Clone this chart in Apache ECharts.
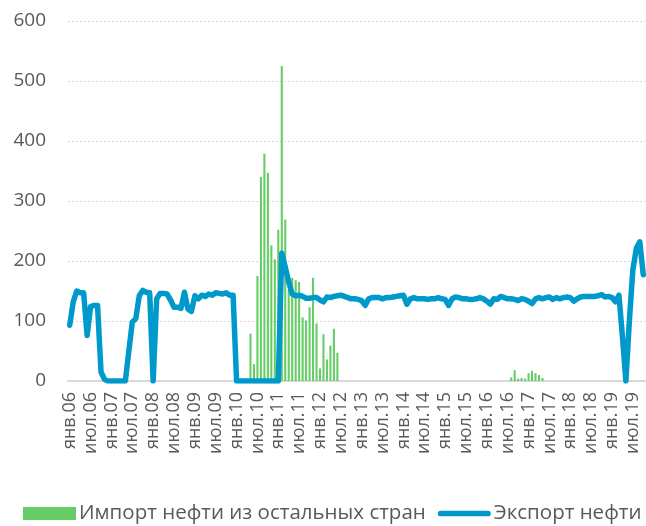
<!DOCTYPE html>
<html><head><meta charset="utf-8">
<script src="https://cdn.jsdelivr.net/npm/echarts@6/dist/echarts.min.js"></script>
<style>html,body{margin:0;padding:0;background:#fff}#c{width:646px;height:526px}</style>
</head><body><div id="c"></div>
<script>
// Month labels (Jan 2006 .. Oct 2019)
const monthNames = ['янв','фев','мар','апр','май','июн','июл','авг','сен','окт','ноя','дек'];
const startYear = 2006;
const monthCount = 166;
const categories = [];
for (let i = 0; i < monthCount; i++) {
  const y = startYear + Math.floor(i / 12);
  categories.push(monthNames[i % 12] + '.' + String(y % 100).padStart(2, '0'));
}

// Экспорт нефти (line), one row per year
const exportOil = [
  93,132,150,147,147,76,124,126,126,15,3,0,          // 2006
  0,0,0,0,0,50,98,104,142,151,148,147,               // 2007
  0,137,146,146,145,135,123,123,121,148,120,116,     // 2008
  142,137,143,141,145,143,147,146,145,147,143,143,   // 2009
  0,0,0,0,0,0,0,0,0,0,0,0,                           // 2010
  0,213,190,165,145,142,143,141,138,138,139,139,     // 2011
  135,132,140,139,141,142,143,141,139,137,137,136,   // 2012
  134,126,137,139,139,139,137,139,139,140,141,142,   // 2013
  143,128,137,139,137,137,137,136,137,137,139,137,   // 2014
  136,126,137,140,139,137,137,136,136,137,139,137,   // 2015
  133,128,137,136,141,139,137,137,136,134,137,136,   // 2016
  133,129,137,139,137,139,140,136,139,137,139,140,   // 2017
  139,133,137,140,141,141,141,141,142,144,140,141,   // 2018
  139,132,143,75,0,100,185,221,232,177               // 2019
];

// Импорт нефти из остальных стран (bars)
const importOil = [
  null,null,null,null,null,null,null,null,null,null,null,null,   // 2006
  null,null,null,null,null,null,null,null,null,null,null,null,   // 2007
  null,null,null,null,null,null,null,null,null,null,null,null,   // 2008
  null,null,null,null,null,null,null,null,null,null,null,null,   // 2009
  null,null,null,null,79,28,175,340,379,347,226,203,             // 2010
  252,525,269,152,172,168,165,106,101,123,172,96,                // 2011
  21,78,36,59,87,47,null,null,null,null,null,null,               // 2012
  null,null,null,null,null,null,null,null,null,null,null,null,   // 2013
  null,null,null,null,null,null,null,null,null,null,null,null,   // 2014
  null,null,null,null,null,null,null,null,null,null,null,null,   // 2015
  null,null,null,null,null,null,null,6,18,4,5,4,                 // 2016
  13,17,13,10,5,null,null,null,null,null,null,null,              // 2017
  null,null,null,null,null,null,null,null,null,null,null,null,   // 2018
  null,null,null,null,null,null,null,null,null,null              // 2019
];

const yTicks = { min: 0, max: 600, interval: 100 };
const seriesNames = ['Импорт нефти из остальных стран', 'Экспорт нефти'];

const chart = echarts.init(document.getElementById('c'), null, { renderer: 'canvas' });
const font = '"Open Sans", "DejaVu Sans", sans-serif';
const lineIcon = 'path://M3,0 L53,0 A3,3 0 0 1 53,6 L3,6 A3,3 0 0 1 3,0 Z';
chart.setOption({
  animation: false,
  textStyle: { fontFamily: font },
  grid: { left: 68, right: 1, top: 21, bottom: 145, containLabel: false },
  legend: {
    left: 23, top: 503, width: 623, padding: 0,
    itemWidth: 53, itemHeight: 13, itemGap: 12,
    symbolKeepAspect: true,
    textStyle: { fontFamily: font, fontSize: 20.5, color: '#595959', padding: [0, 0, 0, -2] },
    data: [
      { name: seriesNames[0], icon: 'rect' },
      { name: seriesNames[1], icon: lineIcon, itemStyle: { color: '#0099cc', borderWidth: 0 } }
    ]
  },
  xAxis: {
    type: 'category',
    data: categories,
    boundaryGap: true,
    axisLine: { lineStyle: { color: '#d9d9d9', width: 2 } },
    axisTick: { interval: 5, length: 6, lineStyle: { color: '#d9d9d9', width: 1.5 } },
    axisLabel: { interval: 5, rotate: 90, margin: 11, fontSize: 18, color: '#595959', fontFamily: font },
    splitLine: { show: false }
  },
  yAxis: {
    type: 'value',
    min: yTicks.min, max: yTicks.max, interval: yTicks.interval,
    axisLine: { show: false },
    axisTick: { show: false },
    axisLabel: { fontSize: 19, color: '#595959', margin: 22, fontFamily: font },
    splitLine: { lineStyle: { color: '#d9d9d9', type: [2, 2], width: 1 } }
  },
  series: [
    {
      name: seriesNames[0], type: 'bar', data: importOil,
      barCategoryGap: '40%',
      itemStyle: { color: '#66cc66' }
    },
    {
      name: seriesNames[1], type: 'line', data: exportOil,
      symbol: 'none', showSymbol: false,
      lineStyle: { color: '#0099cc', width: 5.5, cap: 'round', join: 'round' },
      itemStyle: { color: '#0099cc' }
    }
  ]
});
</script></body></html>
